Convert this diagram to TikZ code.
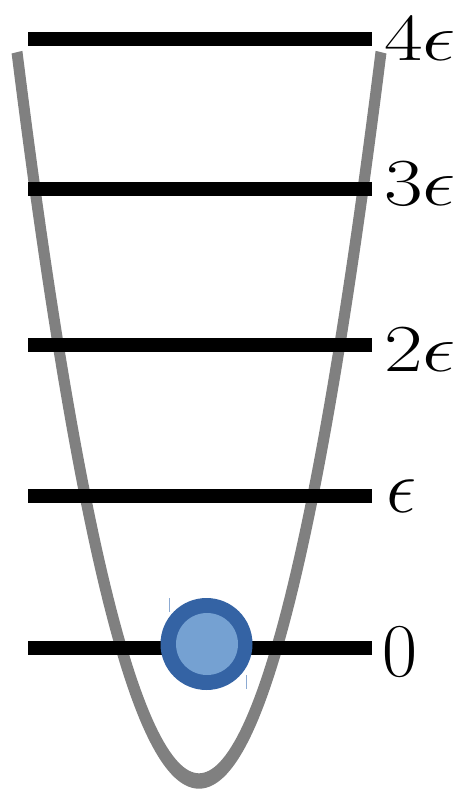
\documentclass[tikz,border=0pt]{standalone}
\usepackage{fix-cm}
\usepackage{graphicx}
\definecolor{wellgray}{RGB}{128,128,128}
\definecolor{balldark}{RGB}{52,99,164}
\definecolor{balllight}{RGB}{117,161,210}
\definecolor{tickblue}{RGB}{140,170,210}
\newcommand{\squash}[1]{\scalebox{1}[0.8]{#1}}
\begin{document}
\begin{tikzpicture}[x=1pt,y=-1pt,
  wellfill/.style={fill=wellgray},
  level/.style={draw=black,line width=14pt,line cap=butt},
  biglab/.style={anchor=base west,inner sep=0pt,font=\fontsize{76}{76}\selectfont},
  toplab/.style={anchor=base west,inner sep=0pt,font=\fontsize{84}{84}\selectfont},
  tickmark/.style={draw=tickblue,line width=1pt}]
\useasboundingbox (0,0) rectangle (458,789);
% potential well (stroke slightly thicker at the bottom)
\fill[wellfill]
  plot[domain=-182:182,samples=121,variable=\t]
    ({199+(\t)+0.172854*(\t)/sqrt(1+0.000987712*(\t)*(\t))},
     {781-0.022*(\t)*(\t)+7.7/sqrt(1+0.000987712*(\t)*(\t))})
  -- plot[domain=182:-182,samples=121,variable=\t]
    ({199+(\t)-0.172854*(\t)/sqrt(1+0.000987712*(\t)*(\t))},
     {781-0.022*(\t)*(\t)-7.7/sqrt(1+0.000987712*(\t)*(\t))})
  -- cycle;
% energy levels
\coordinate (l4a) at (28,39);  \coordinate (l4b) at (372,39);
\coordinate (l3a) at (28,189); \coordinate (l3b) at (372,189);
\coordinate (l2a) at (28,345); \coordinate (l2b) at (372,345);
\coordinate (l1a) at (28,496); \coordinate (l1b) at (372,496);
\coordinate (l0a) at (28,648); \coordinate (l0b) at (372,648);
\draw[level] (l4a) -- (l4b);
\draw[level] (l3a) -- (l3b);
\draw[level] (l2a) -- (l2b);
\draw[level] (l1a) -- (l1b);
\draw[level] (l0a) -- (l0b);
% labels
\node[toplab] (t4) at (384,61) {\squash{$4\epsilon$}};
\node[toplab] (t3) at (384,205) {\squash{$3\epsilon$}};
\node[toplab] (t2) at (384,371) {\squash{$2\epsilon$}};
\node[biglab] (t1) at (386,512) {$\epsilon$};
\node[biglab] (t0) at (382,676) {$0$};
% particle
\fill[balldark] (206.5,644) circle[radius=46];
\fill[balllight] (207,644) circle[radius=31];
\draw[tickmark] (169,598) -- (169,612);
\draw[tickmark] (246,675) -- (246,689);
\end{tikzpicture}
\end{document}
